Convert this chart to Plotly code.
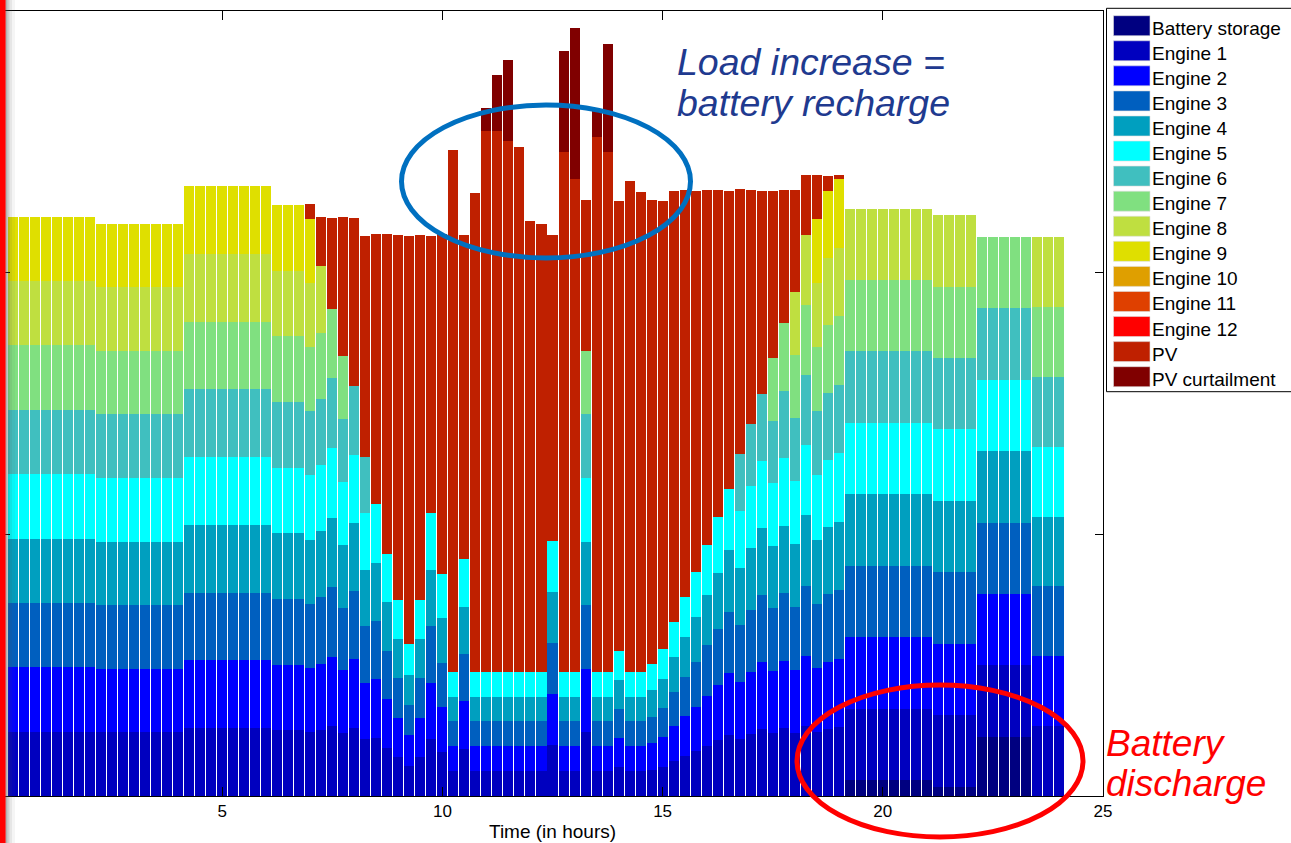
import plotly.graph_objects as go

# ---------------- data (y in axis units: 1 tick = 1 unit) ----------------
# 96 quarter-hour bars, centred at 0.25 h ... 24 h
hours = [0.25 * i for i in range(1, 97)]

# number of engines running in each quarter hour
n_engines = [
    9, 9, 9, 9, 9, 9, 9, 9,
    9, 9, 9, 9, 9, 9, 9, 9,
    9, 9, 9, 9, 9, 9, 9, 9,
    9, 9, 9, 9, 8, 7, 7, 6,
    6, 5, 5, 5, 5, 5, 5, 5,
    5, 5, 5, 5, 5, 5, 5, 5,
    5, 5, 5, 5, 7, 5, 5, 5,
    5, 5, 5, 5, 5, 5, 5, 5,
    5, 5, 6, 6, 6, 7, 7, 8,
    8, 9, 9, 9, 8, 8, 8, 8,
    8, 8, 8, 8, 8, 8, 8, 8,
    7, 7, 7, 7, 7, 8, 8, 8,
]

# output of each running engine (equal load sharing)
engine_load = [
    0.246, 0.246, 0.246, 0.246, 0.246, 0.246, 0.246, 0.246,
    0.243, 0.243, 0.243, 0.243, 0.243, 0.243, 0.243, 0.243,
    0.259, 0.259, 0.259, 0.259, 0.259, 0.259, 0.259, 0.259,
    0.251, 0.251, 0.251, 0.245, 0.253, 0.266, 0.240, 0.261,
    0.216, 0.223, 0.185, 0.150, 0.116, 0.150, 0.216, 0.170,
    0.095, 0.181, 0.095, 0.095, 0.095, 0.095, 0.095, 0.095,
    0.095, 0.195, 0.095, 0.095, 0.243, 0.095, 0.095, 0.111,
    0.095, 0.095, 0.101, 0.112, 0.133, 0.152, 0.171, 0.192,
    0.213, 0.235, 0.218, 0.237, 0.256, 0.239, 0.258, 0.241,
    0.268, 0.245, 0.257, 0.262, 0.273, 0.273, 0.273, 0.273,
    0.273, 0.273, 0.273, 0.273, 0.273, 0.273, 0.273, 0.273,
    0.273, 0.273, 0.273, 0.273, 0.273, 0.267, 0.267, 0.267,
]

battery = [
    0, 0, 0, 0, 0, 0, 0, 0,
    0, 0, 0, 0, 0, 0, 0, 0,
    0, 0, 0, 0, 0, 0, 0, 0,
    0, 0, 0, 0, 0, 0, 0, 0,
    0, 0, 0, 0, 0, 0, 0, 0,
    0, 0, 0, 0, 0, 0, 0, 0,
    0, 0, 0, 0, 0, 0, 0, 0,
    0, 0, 0, 0, 0, 0, 0, 0,
    0, 0, 0, 0, 0, 0, 0, 0,
    0, 0, 0, 0, 0.061, 0.061, 0.061, 0.061,
    0.061, 0.061, 0.061, 0.061, 0.036, 0.036, 0.036, 0.036,
    0.226, 0.226, 0.226, 0.226, 0.226, 0, 0, 0,
]

pv = [
    0, 0, 0, 0, 0, 0, 0, 0,
    0, 0, 0, 0, 0, 0, 0, 0,
    0, 0, 0, 0, 0, 0, 0, 0,
    0, 0, 0, 0.057, 0.188, 0.347, 0.531, 0.644,
    0.846, 1.033, 1.221, 1.393, 1.562, 1.393, 1.062, 1.297,
    1.994, 1.238, 1.829, 2.068, 2.068, 2.027, 2.004, 1.721,
    1.711, 1.168, 1.986, 1.884, 0.576, 2.042, 1.986, 1.718,
    1.877, 1.832, 1.771, 1.715, 1.648, 1.556, 1.458, 1.356,
    1.250, 1.137, 1.010, 0.893, 0.776, 0.641, 0.509, 0.389,
    0.229, 0.168, 0.057, 0.014, 0, 0, 0, 0,
    0, 0, 0, 0, 0, 0, 0, 0,
    0, 0, 0, 0, 0, 0, 0, 0,
]

pv_curtailment = [
    0, 0, 0, 0, 0, 0, 0, 0,
    0, 0, 0, 0, 0, 0, 0, 0,
    0, 0, 0, 0, 0, 0, 0, 0,
    0, 0, 0, 0, 0, 0, 0, 0,
    0, 0, 0, 0, 0, 0, 0, 0,
    0, 0, 0, 0.085, 0.214, 0.312, 0, 0,
    0, 0, 0.388, 0.577, 0, 0.099, 0.412, 0,
    0, 0, 0, 0, 0, 0, 0, 0,
    0, 0, 0, 0, 0, 0, 0, 0,
    0, 0, 0, 0, 0, 0, 0, 0,
    0, 0, 0, 0, 0, 0, 0, 0,
    0, 0, 0, 0, 0, 0, 0, 0,
]

series_names = ["Battery storage"] + [f"Engine {i}" for i in range(1, 13)] + ["PV", "PV curtailment"]
series_colors = [
    "#000080", "#0000BF", "#0000FF", "#005FBF", "#009FBF", "#00FFFF",
    "#40BFBF", "#80E080", "#BFDF40", "#DFDF00", "#DF9F00", "#DF4000",
    "#FF0000", "#BF2000", "#800000",
]

x_ticks = [0, 5, 10, 15, 20, 25]

# ---------------- build series ----------------
series_values = [battery]
for e in range(1, 13):
    series_values.append([load if e <= n else 0 for load, n in zip(engine_load, n_engines)])
series_values.append(pv)
series_values.append(pv_curtailment)

# ---------------- geometry helpers (pixel -> paper) ----------------
W, H = 1291, 843
PL, PR, PT, PB = 2, 1103, 11, 796


def px_x(px):
    return (px - PL) / (PR - PL)


def px_y(py):
    return (PB - py) / (PB - PT)


FONT = "Arial, Liberation Sans, sans-serif"

fig = go.Figure()
for name, color, vals in zip(series_names, series_colors, series_values):
    fig.add_trace(go.Bar(
        x=hours, y=vals, name=name,
        marker=dict(color=color, line=dict(width=0)),
        showlegend=False,
    ))

shapes = []
annotations = []

# left red stripe with soft shadow
shapes.append(dict(type="rect", xref="paper", yref="paper",
                   x0=px_x(0), x1=px_x(5.7), y0=px_y(H), y1=px_y(0),
                   fillcolor="#FF0000", line=dict(width=0), layer="above"))
for a, b, op in [(5.7, 7.5, 0.45), (7.5, 9.5, 0.28), (9.5, 12, 0.14), (12, 15, 0.06)]:
    shapes.append(dict(type="rect", xref="paper", yref="paper",
                       x0=px_x(a), x1=px_x(b), y0=px_y(H), y1=px_y(0),
                       fillcolor=f"rgba(80,80,80,{op})", line=dict(width=0), layer="above"))

# ellipses
shapes.append(dict(type="circle", xref="paper", yref="paper",
                   x0=px_x(401.5), x1=px_x(690.5), y0=px_y(258), y1=px_y(105),
                   line=dict(color="#0070C0", width=5), layer="above"))
shapes.append(dict(type="circle", xref="paper", yref="paper",
                   x0=px_x(797), x1=px_x(1083), y0=px_y(837), y1=px_y(685),
                   line=dict(color="#FF0000", width=5), layer="above"))

# custom legend
shapes.append(dict(type="rect", xref="paper", yref="paper",
                   x0=px_x(1106.5), x1=px_x(1300), y0=px_y(391.7), y1=px_y(8.3),
                   fillcolor="white", line=dict(color="black", width=1), layer="above"))
for i, (name, color) in enumerate(zip(series_names, series_colors)):
    top = 15.7 + 25.07 * i
    shapes.append(dict(type="rect", xref="paper", yref="paper",
                       x0=px_x(1113.5), x1=px_x(1150), y0=px_y(top + 20), y1=px_y(top),
                       fillcolor=color, line=dict(color="#DDDDDD", width=0.6), layer="above"))
    annotations.append(dict(xref="paper", yref="paper", x=px_x(1150), y=px_y(top + 12.5),
                            text=name, showarrow=False, xanchor="left", yanchor="middle",
                            font=dict(family=FONT, size=19, color="black")))

# callout texts
for txt, py in [("Load increase =", 62), ("battery recharge", 103)]:
    annotations.append(dict(xref="paper", yref="paper", x=px_x(675), y=px_y(py),
                            text=txt, showarrow=False, xanchor="left", yanchor="middle",
                            font=dict(family=FONT, size=37.5, color="#1F3A8F", style="italic")))
for txt, py in [("Battery", 743), ("discharge", 783)]:
    annotations.append(dict(xref="paper", yref="paper", x=px_x(1104), y=px_y(py),
                            text=txt, showarrow=False, xanchor="left", yanchor="middle",
                            font=dict(family=FONT, size=37, color="#FF0000", style="italic")))

# x axis title
annotations.append(dict(xref="paper", yref="paper", x=px_x(552), y=px_y(831),
                        text="Time (in hours)", showarrow=False, xanchor="center", yanchor="middle",
                        font=dict(family=FONT, size=19, color="black")))

fig.update_layout(
    width=W, height=H,
    margin=dict(l=PL, r=W - PR, t=PT, b=H - PB, pad=0),
    paper_bgcolor="white", plot_bgcolor="white",
    barmode="stack", bargap=0.09,
    showlegend=False,
    shapes=shapes, annotations=annotations,
    font=dict(family=FONT, size=16, color="black"),
    xaxis=dict(range=[0, 25], tickvals=x_ticks, ticktext=[str(t) for t in x_ticks],
               ticks="inside", ticklen=9, tickcolor="black", showgrid=False, zeroline=False,
               showline=True, linecolor="black", linewidth=1, mirror="ticks",
               tickfont=dict(family=FONT, size=17, color="black")),
    yaxis=dict(range=[0, 3], tickvals=[0, 1, 2, 3], showticklabels=False,
               ticks="inside", ticklen=8, tickcolor="black", showgrid=False, zeroline=False,
               showline=True, linecolor="black", linewidth=1, mirror="ticks"),
)

fig.write_html("out.html")
